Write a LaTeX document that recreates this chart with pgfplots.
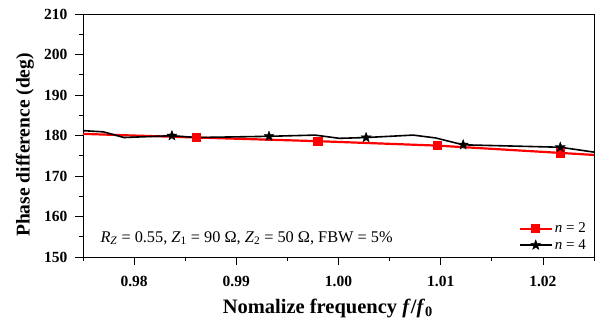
\documentclass[border=0pt]{standalone}
\usepackage{fontspec}
\setmainfont{Liberation Serif}
\usepackage{pgfplots}
\pgfplotsset{compat=1.18}
\pgfdeclareplotmark{fstar}{%
  \pgfpathmoveto{\pgfpointpolar{90}{\pgfplotmarksize}}%
  \pgfpathlineto{\pgfpointpolar{126}{0.42\pgfplotmarksize}}%
  \pgfpathlineto{\pgfpointpolar{162}{\pgfplotmarksize}}%
  \pgfpathlineto{\pgfpointpolar{198}{0.42\pgfplotmarksize}}%
  \pgfpathlineto{\pgfpointpolar{234}{\pgfplotmarksize}}%
  \pgfpathlineto{\pgfpointpolar{270}{0.42\pgfplotmarksize}}%
  \pgfpathlineto{\pgfpointpolar{306}{\pgfplotmarksize}}%
  \pgfpathlineto{\pgfpointpolar{342}{0.42\pgfplotmarksize}}%
  \pgfpathlineto{\pgfpointpolar{18}{\pgfplotmarksize}}%
  \pgfpathlineto{\pgfpointpolar{54}{0.42\pgfplotmarksize}}%
  \pgfpathclose
  \pgfusepathqfillstroke}
\begin{document}
\begin{tikzpicture}
\begin{axis}[
  scale only axis, width=511pt, height=243pt,
  xmin=0.975, xmax=1.025, ymin=150, ymax=210,
  xtick={0.98,0.99,1.00,1.01,1.02},
  xticklabels={0.98,0.99,1.00,1.01,1.02},
  minor xtick={0.975,0.985,0.995,1.005,1.015,1.025},
  ytick={150,160,170,180,190,200,210},
  yticklabels={150,160,170,180,190,200,210},
  minor ytick={155,165,175,185,195,205},
  tick align=outside, xtick pos=left, ytick pos=left,
  major tick length=8pt, minor tick length=4pt,
  every tick/.style={black, line width=0.8pt},
  axis line style={line width=0.9pt},
  /pgf/number format/assume math mode=true,
  xticklabel style={font=\bfseries\fontsize{15.5}{15.5}\selectfont, yshift=-8pt},
  yticklabel style={font=\bfseries\fontsize{15.5}{15.5}\selectfont, xshift=-4pt},
  xlabel={\bfseries Nomalize frequency \textit{f}/\textit{f}\textsubscript{0}},
  ylabel={\bfseries Phase difference (deg)},
  xlabel style={font=\fontsize{20.5}{20.5}\selectfont, at={(axis description cs:0.479,-0.213)}, anchor=center},
  ylabel style={font=\fontsize{19.5}{19.5}\selectfont, at={(axis description cs:-0.1135,0.461)}, anchor=center},
  legend style={at={(1,0)}, anchor=south east, draw=none, fill=none, font=\fontsize{15}{15}\selectfont, row sep=1pt, xshift=-3pt, yshift=2pt},
  legend cell align=left,
  legend image code/.code={\draw[#1, mark indices={2}] plot coordinates {(0pt,0pt) (16pt,0pt) (32pt,0pt)};},
  clip=false,
]
\addplot[red, line width=2.2pt, mark=square*, mark size=3.5pt, mark options={solid}, mark indices={2,3,4,5}]
coordinates {(0.975,180.4) (0.9861,179.5) (0.998,178.6) (1.0097,177.5) (1.0217,175.7) (1.025,175.2)};
\addlegendentry{\textit{n} = 2}
\addplot[black, line width=1.6pt, mark=fstar, mark size=5.2pt, mark options={solid, line width=0.4pt}, mark indices={4,6,9,12,13}]
coordinates {(0.975,181.2) (0.977,180.9) (0.979,179.5) (0.9837,179.95) (0.9861,179.5) (0.9932,179.8) (0.9977,180.1) (1.0001,179.3) (1.0027,179.5) (1.0073,180.1) (1.0095,179.4) (1.0122,177.7) (1.0217,177.1)(1.025,175.9)};
\addlegendentry{\textit{n} = 4}
\end{axis}
\node[anchor=base west, font=\fontsize{16.3}{16.3}\selectfont] at (14pt,15pt) {\textit{R}\textsubscript{\textit{Z}} = 0.55, \textit{Z}\textsubscript{1} = 90 Ω, \textit{Z}\textsubscript{2} = 50 Ω, FBW = 5\%};
\pgfresetboundingbox
\path[use as bounding box] ([xshift=-83pt,yshift=-67pt]current axis.south west) rectangle ([xshift=6pt,yshift=14pt]current axis.north east);
\end{tikzpicture}
\end{document}
